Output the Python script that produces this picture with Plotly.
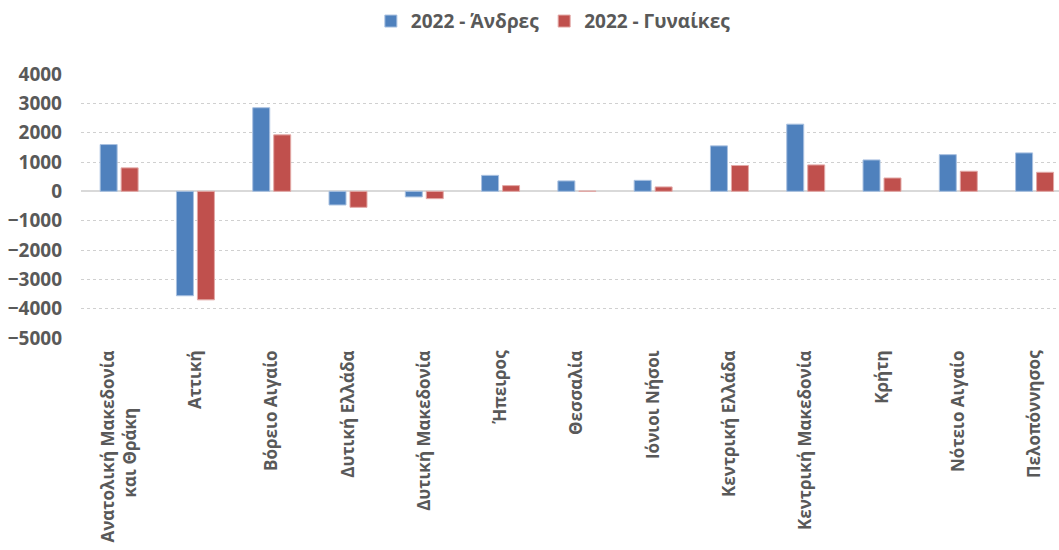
import plotly.graph_objects as go

categories = ["Ανατολική Μακεδονία<br>και Θράκη" + "\u00a0" * 13, "Αττική", "Βόρειο Αιγαίο", "Δυτική Ελλάδα",
              "Δυτική Μακεδονία", "Ήπειρος", "Θεσσαλία", "Ιόνιοι Νήσοι", "Κεντρική Ελλάδα",
              "Κεντρική Μακεδονία", "Κρήτη", "Νότειο Αιγαίο", "Πελοπόννησος"]
men = [1595, -3560, 2850, -465, -190, 545, 355, 375, 1550, 2290, 1070, 1250, 1310]
women = [800, -3700, 1925, -545, -250, 195, 10, 150, 880, 900, 455, 685, 650]
y_ticks = [4000, 3000, 2000, 1000, 0, -1000, -2000, -3000, -4000, -5000]
series_names = ["2022 - Άνδρες", "2022 - Γυναίκες"]

FONT = "Open Sans"
GRAY = "#595959"

fig = go.Figure()
fig.add_trace(go.Bar(x=categories, y=men, name=series_names[0],
                     marker=dict(color="#4F81BD", line=dict(color="#A9C1E0", width=1))))
fig.add_trace(go.Bar(x=categories, y=women, name=series_names[1],
                     marker=dict(color="#C0504D", line=dict(color="#E3A9A7", width=1))))

fig.update_layout(
    width=1059, height=550,
    margin=dict(l=81, r=0, t=74, b=212, autoexpand=False),
    paper_bgcolor="white", plot_bgcolor="white",
    barmode="group", bargap=0.45, bargroupgap=0.19,
    font=dict(family=FONT, color=GRAY),
    legend=dict(orientation="h", x=0.483, xref="paper", xanchor="center", y=1.2, yanchor="middle",
                font=dict(family=FONT, size=19, color=GRAY, weight="bold"),
                itemwidth=30, traceorder="normal"),
    xaxis=dict(range=[-0.5, 12.32], tickangle=-90, showgrid=False, showline=False,
               ticks="", tickfont=dict(family=FONT, size=17, color=GRAY, weight="bold"),
               ticklabelstandoff=8),
    yaxis=dict(range=[-5000, 4000], tickvals=y_ticks, showgrid=True,
               gridcolor="#D0D0D0", griddash="dot", gridwidth=1,
               zeroline=True, zerolinecolor="#D9D9D9", zerolinewidth=2,
               showline=False, ticks="",
               tickfont=dict(family=FONT, size=19, color=GRAY, weight="bold"),
               ticklabelstandoff=18),
)

fig.write_html("out.html", config={"displayModeBar": False},
               post_script="document.body.style.margin='0';document.body.style.overflow='hidden';")
